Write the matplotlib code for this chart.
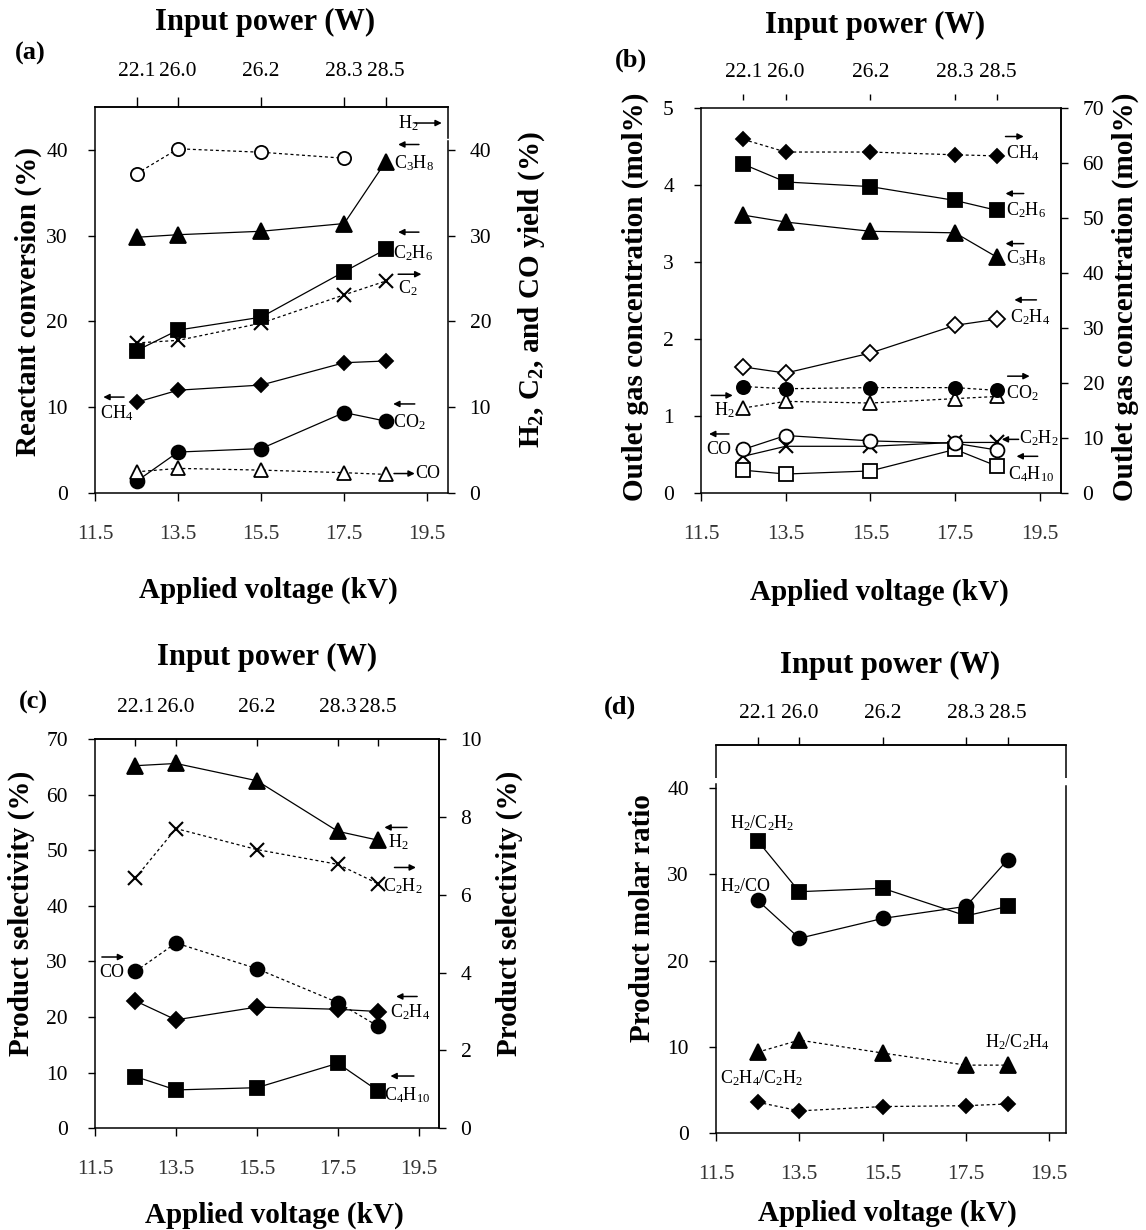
import numpy as np
import matplotlib
matplotlib.use("Agg")
import matplotlib.pyplot as plt

plt.rcParams["font.family"] = ["Liberation Serif", "DejaVu Serif"]
plt.rcParams["mathtext.fontset"] = "custom"
plt.rcParams["mathtext.rm"] = "Liberation Serif"
plt.rcParams["mathtext.it"] = "Liberation Serif:italic"
plt.rcParams["mathtext.bf"] = "Liberation Serif:bold"

# ---------------- data ----------------
voltage = [12.5, 13.5, 15.5, 17.5, 18.5]          # applied voltage (kV)
power_labels = ["22.1", "26.0", "26.2", "28.3", "28.5"]  # input power (W)
voltage_ticks = [11.5, 13.5, 15.5, 17.5, 19.5]
voltage_ticklabels = ["11.5", "13.5", "15.5", "17.5", "19.5"]

# (a) reactant conversion (left) and product yield (right), %
conv_c3h8 = [29.8, 30.1, 30.5, 31.4, 38.6]
conv_c2h6 = [16.6, 19.0, 20.5, 25.8, 28.4]
conv_ch4 = [10.6, 12.0, 12.6, 15.2, 15.4]
conv_co2 = [1.4, 4.8, 5.2, 9.4, 8.4]
yield_h2 = [37.2, 40.1, 39.7, 39.0, np.nan]
yield_c2 = [17.5, 17.8, 19.8, 23.1, 24.7]
yield_co = [2.5, 2.9, 2.7, 2.4, 2.2]

# (b) outlet gas concentration, mol% (left axis 0-5, right axis 0-70)
conc_c2h6 = [4.27, 4.04, 3.98, 3.80, 3.67]
conc_c3h8 = [3.61, 3.52, 3.40, 3.38, 3.06]
conc_c2h4 = [1.64, 1.56, 1.82, 2.18, 2.26]
conc_co = [0.57, 0.75, 0.68, 0.65, 0.56]
conc_c2h2 = [0.48, 0.61, 0.61, 0.66, 0.66]
conc_c4h10 = [0.30, 0.25, 0.29, 0.57, 0.35]
conc_ch4 = [64.3, 62.0, 62.0, 61.5, 61.3]
conc_co2 = [19.4, 19.0, 19.2, 19.2, 18.7]
conc_h2 = [15.5, 16.7, 16.4, 17.2, 17.6]

# (c) product selectivity, % (left axis 0-70, right axis 0-10)
sel_h2 = [65.2, 65.6, 62.5, 53.4, 51.8]
sel_c2h4 = [22.9, 19.5, 21.8, 21.4, 21.0]
sel_c4h10 = [9.3, 6.9, 7.3, 11.7, 6.7]
sel_c2h2 = [6.43, 7.70, 7.16, 6.78, 6.28]
sel_co = [4.03, 4.76, 4.10, 3.23, 2.62]

# (d) product molar ratios
ratio_h2_c2h2 = [33.9, 28.0, 28.4, 25.2, 26.3]
ratio_h2_co = [27.0, 22.6, 24.9, 26.3, 31.7]
ratio_h2_c2h4 = [9.4, 10.8, 9.3, 7.9, 7.9]
ratio_c2h4_c2h2 = [3.6, 2.6, 3.1, 3.2, 3.4]

# ---------------- helpers ----------------
W, H = 1146, 1230
fig = plt.figure(figsize=(W / 100, H / 100), dpi=100)

SPINE = 1.1
TICKSIZE = 15.5
LABELSIZE = 21
CHEM = 13
DOT = (0, (2.4, 2.2))


def rect(x0, y0, x1, y1):
    return [x0 / W, 1 - y1 / H, (x1 - x0) / W, (y1 - y0) / H]


def ftext(x, y, s, **kw):
    fig.text(x / W, 1 - y / H, s, **kw)


def series(ax, y, marker, ms, filled=True, dotted=False, mew=1.3, z=3):
    ax.plot(voltage, y, color="black", lw=0.9,
            linestyle=DOT if dotted else "-",
            marker=marker, markersize=ms,
            markerfacecolor="black" if filled else "white",
            markeredgecolor="black", markeredgewidth=mew, zorder=z)


def arrow(ax, x0, x1, y):
    ax.annotate("", xy=(x1, y), xytext=(x0, y),
                arrowprops=dict(arrowstyle="-|>", color="black", lw=1.1,
                                mutation_scale=9, shrinkA=0, shrinkB=0),
                zorder=5)


def chem(ax, x, y, s, ha="left"):
    ax.text(x, y, s, fontsize=CHEM, ha=ha, va="center", zorder=5)


def base_axes(r, ylim, yticks, xmax=20.0):
    ax = fig.add_axes(rect(*r))
    ax.set_xlim(11.5, xmax)
    ax.set_ylim(*ylim)
    ax.set_xticks(voltage_ticks)
    ax.set_xticklabels(voltage_ticklabels)
    ax.set_yticks(yticks)
    ax.set_yticklabels([f"{t:g}" for t in yticks])
    for s in ax.spines.values():
        s.set_linewidth(SPINE)
    ax.tick_params(axis="x", direction="out", length=5.5, width=1.0,
                   labelsize=TICKSIZE, pad=17.5, labelcolor="#333333")
    ax.tick_params(axis="y", direction="out", length=5, width=1.0,
                   labelsize=TICKSIZE, pad=14.5)
    return ax


def right_axis(ax, ylim, yticks):
    tw = ax.twinx()
    tw.set_ylim(*ylim)
    tw.set_yticks(yticks)
    tw.set_yticklabels([f"{t:g}" for t in yticks])
    for name, s in tw.spines.items():
        s.set_linewidth(SPINE)
        if name != "right":
            s.set_visible(False)
    tw.tick_params(axis="y", direction="out", length=5, width=1.0,
                   labelsize=TICKSIZE, pad=10.5)
    return tw


def top_axis(ax, location=1.0, direction="out", length=7, pad=11.5, spine=True):
    top = ax.secondary_xaxis(location)
    top.set_xticks(voltage)
    top.set_xticklabels(power_labels)
    top.tick_params(direction=direction, length=length, width=1.0,
                    labelsize=TICKSIZE, pad=pad)
    top.spines["top"].set_linewidth(SPINE)
    top.spines["top"].set_visible(spine)
    return top


def spine_piece(ax, x, y0, y1):
    ax.plot([x, x], [y0, y1], transform=ax.transAxes, color="black",
            lw=SPINE, clip_on=False, solid_capstyle="butt")


# ---------------- (a) ----------------
ax_a = base_axes((95, 106.7, 448, 493.3), (0, 45), [0, 10, 20, 30, 40])
ax_a.spines["right"].set_bounds(41.3, 45)
ax_a.tick_params(axis="y", right=False)
tw_a = right_axis(ax_a, (0, 45), [0, 10, 20, 30, 40])
tw_a.spines["right"].set_bounds(0, 41.0)
top_axis(ax_a, direction="out", length=7, pad=11.5)

series(tw_a, yield_h2, "o", 9.5, filled=False, dotted=True)
series(ax_a, conv_c3h8, "^", 11)
series(ax_a, conv_c2h6, "s", 9.5)
series(tw_a, yield_c2, "x", 10, dotted=True, mew=1.5)
series(ax_a, conv_ch4, "D", 7.5)
series(ax_a, conv_co2, "o", 10)
series(tw_a, yield_co, "^", 10.5, filled=False, dotted=True)

chem(ax_a, 18.8, 43.1, "H$_2$")
arrow(ax_a, 19.2, 19.85, 43.1)
arrow(ax_a, 19.3, 18.8, 40.6)
chem(ax_a, 18.7, 38.4, "C$_3$H$_8$")
arrow(ax_a, 19.3, 18.8, 30.4)
chem(ax_a, 18.68, 28.0, "C$_2$H$_6$")
arrow(ax_a, 18.8, 19.36, 25.5)
chem(ax_a, 18.8, 23.9, "C$_2$")
arrow(ax_a, 12.2, 11.7, 11.2)
chem(ax_a, 11.62, 9.3, "CH$_4$")
arrow(ax_a, 19.2, 18.68, 10.4)
chem(ax_a, 18.68, 8.3, "CO$_2$")
arrow(ax_a, 18.7, 19.2, 2.3)
chem(ax_a, 19.2, 2.3, "CO")

# ---------------- (b) ----------------
ax_b = base_axes((701, 108, 1061, 493.3), (0, 5), [0, 1, 2, 3, 4, 5])
ax_b.tick_params(axis="y", right=False)
tw_b = right_axis(ax_b, (0, 70), [0, 10, 20, 30, 40, 50, 60, 70])
top_axis(ax_b, location=1.02, direction="out", length=4.5, pad=8.5, spine=False)

series(tw_b, conc_ch4, "D", 7.5, dotted=True)
series(ax_b, conc_c2h6, "s", 9.5)
series(ax_b, conc_c3h8, "^", 11)
series(ax_b, conc_c2h4, "D", 8, filled=False)
series(tw_b, conc_h2, "^", 10, filled=False, dotted=True)
series(tw_b, conc_co2, "o", 9.5, dotted=True)
series(ax_b, conc_c4h10, "s", 10, filled=False)
series(ax_b, conc_c2h2, "x", 10, mew=1.5)
series(ax_b, conc_co, "o", 10, filled=False)

arrow(ax_b, 18.69, 19.12, 4.63)
chem(ax_b, 18.69, 4.41, "CH$_4$")
arrow(ax_b, 19.12, 18.69, 3.89)
chem(ax_b, 18.69, 3.67, "C$_2$H$_6$")
arrow(ax_b, 19.12, 18.69, 3.24)
chem(ax_b, 18.69, 3.05, "C$_3$H$_8$")
arrow(ax_b, 19.42, 18.9, 2.51)
chem(ax_b, 18.79, 2.28, "C$_2$H$_4$")
arrow(ax_b, 18.74, 19.26, 1.52)
chem(ax_b, 18.69, 1.30, "CO$_2$")
arrow(ax_b, 11.74, 12.25, 1.27)
chem(ax_b, 11.8, 1.08, "H$_2$")
arrow(ax_b, 12.16, 11.69, 0.77)
chem(ax_b, 11.62, 0.57, "CO")
arrow(ax_b, 19.0, 18.6, 0.70)
chem(ax_b, 19.0, 0.71, "C$_2$H$_2$")
arrow(ax_b, 19.45, 18.95, 0.48)
chem(ax_b, 18.74, 0.25, "C$_4$H$_{10}$")

# ---------------- (c) ----------------
ax_c = base_axes((95, 739, 439, 1128.3), (0, 70), [0, 10, 20, 30, 40, 50, 60, 70])
ax_c.tick_params(axis="y", right=False)
tw_c = right_axis(ax_c, (0, 10), [0, 2, 4, 6, 8, 10])
top_axis(ax_c, direction="in", length=5, pad=16)

series(ax_c, sel_h2, "^", 11)
series(tw_c, sel_c2h2, "x", 10, dotted=True, mew=1.5)
series(tw_c, sel_co, "o", 10, dotted=True)
series(ax_c, sel_c2h4, "D", 8)
series(ax_c, sel_c4h10, "s", 10)

arrow(ax_c, 19.21, 18.65, 54.1)
chem(ax_c, 18.74, 51.4, "H$_2$")
arrow(ax_c, 18.9, 19.43, 46.9)
chem(ax_c, 18.62, 43.5, "C$_2$H$_2$")
arrow(ax_c, 11.67, 12.22, 30.8)
chem(ax_c, 11.6, 28.0, "CO")
arrow(ax_c, 19.46, 18.94, 23.7)
chem(ax_c, 18.8, 20.8, "C$_2$H$_4$")
arrow(ax_c, 19.38, 18.8, 9.4)
chem(ax_c, 18.65, 6.0, "C$_4$H$_{10}$")

# ---------------- (d) ----------------
ax_d = base_axes((716, 745, 1066, 1133.3), (0, 45), [0, 10, 20, 30, 40], xmax=19.9)
ax_d.tick_params(axis="y", right=False)
ax_d.spines["left"].set_bounds(0, 40.5)
ax_d.spines["right"].set_bounds(0, 40.3)
spine_piece(ax_d, 0.0, 41.2 / 45, 1.0)
spine_piece(ax_d, 1.0, 41.2 / 45, 1.0)
top_axis(ax_d, direction="out", length=6, pad=10)

series(ax_d, ratio_h2_c2h2, "s", 9.5)
series(ax_d, ratio_h2_co, "o", 10)
series(ax_d, ratio_h2_c2h4, "^", 11, dotted=True)
series(ax_d, ratio_c2h4_c2h2, "D", 7.5, dotted=True)

chem(ax_d, 12.6, 36.0, "H$_2$/C$_2$H$_2$", ha="center")
chem(ax_d, 12.2, 28.6, "H$_2$/CO", ha="center")
chem(ax_d, 18.74, 10.6, "H$_2$/C$_2$H$_4$", ha="center")
chem(ax_d, 12.6, 6.4, "C$_2$H$_4$/C$_2$H$_2$", ha="center")

# ---------------- titles, axis labels, panel letters ----------------
bold = dict(fontweight="bold", ha="center", va="center")
for x, y in [(265, 22), (875, 25), (267, 657), (890, 665)]:
    ftext(x, y, "Input power (W)", fontsize=22, **bold)
for x, y in [(268, 590), (879, 592), (274, 1215), (887, 1213)]:
    ftext(x, y, "Applied voltage (kV)", fontsize=LABELSIZE, **bold)

ftext(28, 301, "Reactant conversion (%)", fontsize=LABELSIZE, rotation=90, **bold)
ftext(532, 290, r"H$_\mathbf{2}$, C$_\mathbf{2}$, and CO yield (%)",
      fontsize=LABELSIZE, rotation=90, **bold)
ftext(635, 297, "Outlet gas concentration (mol%)", fontsize=LABELSIZE, rotation=90, **bold)
ftext(1125, 297, "Outlet gas concentration (mol%)", fontsize=LABELSIZE, rotation=90, **bold)
ftext(21, 913, "Product selectivity (%)", fontsize=LABELSIZE, rotation=90, **bold)
ftext(509, 913, "Product selectivity (%)", fontsize=LABELSIZE, rotation=90, **bold)
ftext(643, 918, "Product molar ratio", fontsize=LABELSIZE, rotation=90, **bold)

for x, y, s in [(30, 53, "(a)"), (631, 60, "(b)"), (33, 702, "(c)"), (620, 707, "(d)")]:
    ftext(x, y, s, fontsize=19, **bold)

fig.savefig("out.png", dpi=100, facecolor="white")
